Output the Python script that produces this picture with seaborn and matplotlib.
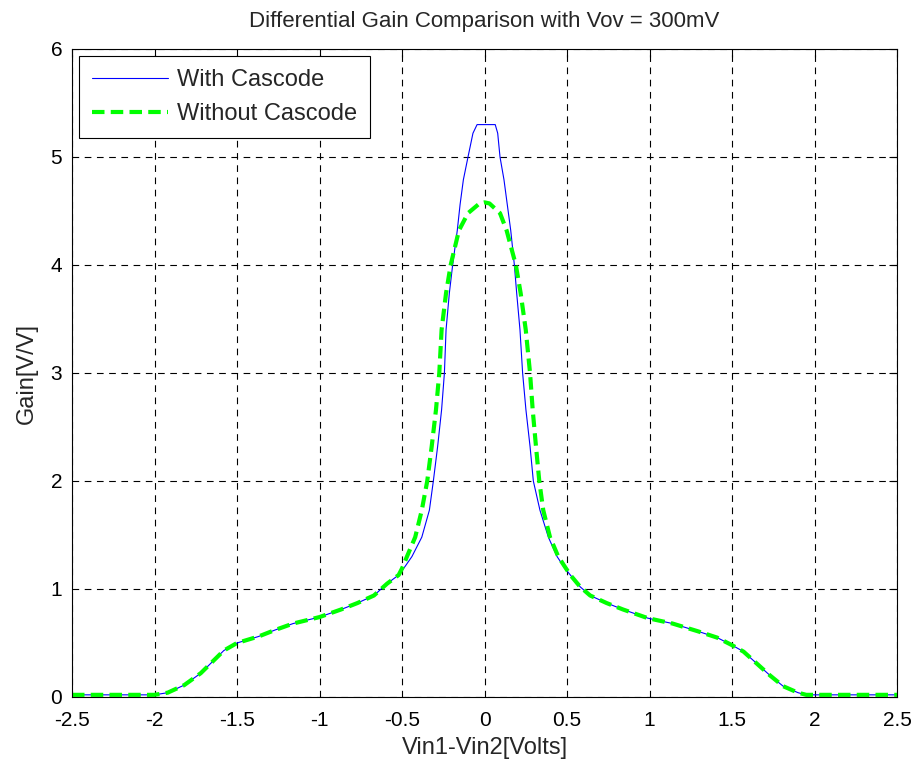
import pandas as pd
import matplotlib.pyplot as plt
import seaborn as sns
import numpy as np

# valores (x en volts, ganancia en V/V)
tail_left_x = [-2.5, -2.0, -1.92, -1.82, -1.72, -1.64, -1.58, -1.5, -1.37, -1.27, -1.16, -1.0,
               -0.87, -0.77, -0.67, -0.59, -0.52]
tail_left_y = [0.02, 0.02, 0.04, 0.11, 0.22, 0.34, 0.43, 0.50, 0.56, 0.62, 0.68, 0.74,
               0.81, 0.87, 0.94, 1.05, 1.13]
tail_right_x = [0.52, 0.58, 0.64, 0.74, 0.84, 0.99, 1.14, 1.29, 1.41, 1.5, 1.57, 1.65,
                1.73, 1.81, 1.9, 1.95, 2.5]
tail_right_y = [1.13, 1.02, 0.94, 0.87, 0.81, 0.73, 0.68, 0.61, 0.55, 0.48, 0.42, 0.31,
                0.20, 0.10, 0.04, 0.02, 0.02]

cascode_mid_x = [-0.49, -0.44, -0.38, -0.334, -0.31, -0.284, -0.26, -0.243, -0.233, -0.213,
                 -0.193, -0.165, -0.148, -0.128, -0.10, -0.07, -0.045, 0.065, 0.08, 0.094,
                 0.118, 0.138, 0.159, 0.181, 0.195, 0.215, 0.231, 0.251, 0.276, 0.296,
                 0.336, 0.387, 0.44, 0.488]
cascode_mid_y = [1.19, 1.30, 1.48, 1.73, 2.0, 2.32, 2.66, 3.0, 3.40, 3.74,
                 4.0, 4.32, 4.56, 4.79, 5.0, 5.22, 5.30, 5.30, 5.22, 5.0,
                 4.79, 4.56, 4.32, 4.0, 3.74, 3.40, 3.0, 2.66, 2.32, 2.0,
                 1.73, 1.48, 1.30, 1.19]

nocascode_mid_x = [-0.50, -0.47, -0.42, -0.38, -0.347, -0.32, -0.294, -0.274, -0.26, -0.233,
                   -0.205, -0.155, -0.10, -0.03, 0.0, 0.03, 0.094, 0.134, 0.19, 0.219,
                   0.25, 0.276, 0.292, 0.312, 0.332, 0.356, 0.397, 0.447, 0.494]
nocascode_mid_y = [1.19, 1.30, 1.48, 1.73, 2.0, 2.32, 2.66, 3.0, 3.40, 3.74,
                   4.0, 4.32, 4.48, 4.57, 4.58, 4.57, 4.48, 4.32, 4.0, 3.74,
                   3.40, 3.0, 2.66, 2.32, 2.0, 1.73, 1.48, 1.30, 1.19]

x_ticks = [-2.5, -2, -1.5, -1, -0.5, 0, 0.5, 1, 1.5, 2, 2.5]
x_tick_labels = ['-2.5', '-2', '-1.5', '-1', '-0.5', '0', '0.5', '1', '1.5', '2', '2.5']
y_ticks = [0, 1, 2, 3, 4, 5, 6]

df_cascode = pd.DataFrame({'x': tail_left_x + cascode_mid_x + tail_right_x,
                           'y': tail_left_y + cascode_mid_y + tail_right_y})
df_nocascode = pd.DataFrame({'x': tail_left_x + nocascode_mid_x + tail_right_x,
                             'y': tail_left_y + nocascode_mid_y + tail_right_y})

sns.set_style('white')
plt.rcParams['font.family'] = ['Liberation Sans', 'DejaVu Sans']

fig = plt.figure(figsize=(9.17, 7.64), dpi=100)
ax = fig.add_axes([72 / 917, 67 / 764, 825 / 917, 648 / 764])

sns.lineplot(data=df_cascode, x='x', y='y', ax=ax, color='#0000ff', linewidth=0.8,
             label='With Cascode', sort=False, estimator=None)
sns.lineplot(data=df_nocascode, x='x', y='y', ax=ax, color='#00ff00', linewidth=3,
             linestyle=(0, (3, 1.5)), label='Without Cascode', sort=False, estimator=None)

ax.set_xlim(-2.5, 2.5)
ax.set_ylim(0, 6)
ax.set_xticks(x_ticks)
ax.set_xticklabels(x_tick_labels)
ax.set_yticks(y_ticks)
ax.tick_params(direction='in', length=6, width=0.8, top=True, right=True,
               labelsize=15, colors='black')
ax.tick_params(axis='x', pad=10)
ax.tick_params(axis='y', pad=7)
ax.grid(True, color='black', linestyle=(0, (6, 5)), linewidth=0.8)
for sp in ax.spines.values():
    sp.set_color('black')
    sp.set_linewidth(0.8)

ax.set_title('Differential Gain Comparison with Vov = 300mV', fontsize=16, pad=16)
ax.set_xlabel('Vin1-Vin2[Volts]', fontsize=17, labelpad=5)
ax.set_ylabel('Gain[V/V]', fontsize=17, labelpad=9)

leg = ax.legend(loc='upper left', fontsize=17, frameon=True, fancybox=False,
                edgecolor='black', framealpha=1, borderaxespad=0.3, handlelength=3.2,
                handletextpad=0.4, borderpad=0.55, labelspacing=0.5)
leg.get_frame().set_linewidth(0.8)

fig.savefig('out.png', dpi=100, facecolor='white')
